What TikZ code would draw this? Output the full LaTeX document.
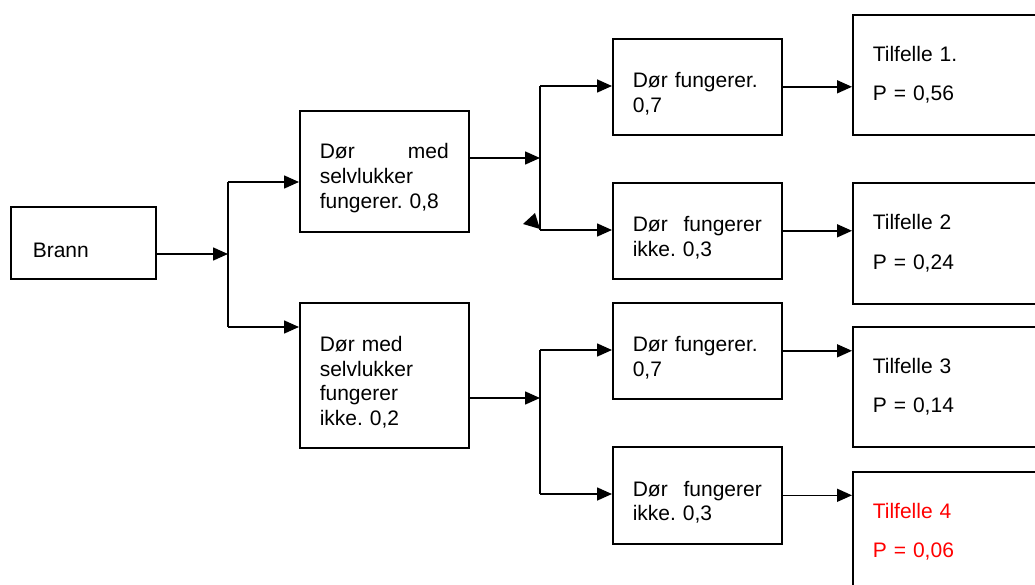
\documentclass[tikz,border=0pt]{standalone}
\usepackage{fontspec}
\setmainfont{Liberation Sans}
\usetikzlibrary{arrows.meta}
\frenchspacing
\begin{document}
\begin{tikzpicture}[x=1pt,y=-1pt,>={Triangle[length=15pt,width=13pt]},line width=1.6pt,
	ramme/.style={draw,anchor=north west,align=left,inner xsep=20pt,inner ysep=0pt,
		font=\fontsize{21}{24.8}\selectfont},
	boks/.style={ramme,text width=129pt,execute at begin node={\rule{0pt}{29pt}}},
	tilfelle/.style={ramme,text width=160pt,minimum height=120pt}]
	\useasboundingbox (0,0) rectangle (1035,585);
	\clip (0,0) rectangle (1035,585);
	% boksene
	\node[boks,text width=101pt,inner xsep=22pt,minimum height=72pt] (brann) at (10,206) {Brann};
	\node[boks,minimum height=121pt] (a) at (299,110) {Dør\hfill med\\selvlukker\\fungerer. 0,8};
	\node[boks,minimum height=145pt] (b) at (299,302) {Dør med\\selvlukker\\fungerer\\ikke. 0,2};
	\node[boks,minimum height=96pt] (c1) at (612,38) {Dør fungerer.\\0,7};
	\node[boks,minimum height=96pt] (c2) at (612,182) {Dør\hfill fungerer\\ikke. 0,3};
	\node[boks,minimum height=96pt] (c3) at (612,302) {Dør fungerer.\\0,7};
	\node[boks,minimum height=97pt] (c4) at (612,446) {Dør\hfill fungerer\\ikke. 0,3};
	\node[tilfelle] (d1) at (852,14) {Tilfelle 1.\\[15pt]P = 0,56};
	\node[tilfelle,minimum height=121pt] (d2) at (852,182) {Tilfelle 2\\[15pt]P = 0,24};
	\node[tilfelle] (d3) at (852,326) {Tilfelle 3\\[15pt]P = 0,14};
	\node[tilfelle,text=red] (d4) at (852,471) {Tilfelle 4\\[15pt]P = 0,06};
	% forgreninger
	\coordinate (j0) at (228,254);
	\coordinate (s1) at (228,182);
	\coordinate (s2) at (228,327);
	\coordinate (j1) at (540,158);
	\coordinate (t1) at (540,86);
	\coordinate (t2) at (540,230);
	\coordinate (j2) at (540,398);
	\coordinate (t3) at (540,350);
	\coordinate (t4) at (540,494);
	\draw[->] (brann.east |- j0) -- (j0);
	\draw (s1) -- (s2);
	\draw[->] (s1) -- (s1 -| a.west);
	\draw[->] (s2) -- (s2 -| b.west);
	\draw[->] (a.east |- j1) -- (j1);
	\draw (t1) -- (t2);
	\draw[->] (t1) -- (t1 -| c1.west);
	\draw[->] (t2) -- (t2 -| c2.west);
	\fill (535,213) -- (523,224) -- (540,229) -- cycle;
	\draw[->] (b.east |- j2) -- (j2);
	\draw (t3) -- (t4);
	\draw[->] (t3) -- (t3 -| c3.west);
	\draw[->] (t4) -- (t4 -| c4.west);
	\draw[->] (c1.east) -- (d1.west |- c1.east);
	\draw[->] (c2.east) -- (d2.west |- c2.east);
	\draw[->] (c3.east) -- (d3.west |- c3.east);
	\draw[->] (c4.east) -- (d4.west |- c4.east);
\end{tikzpicture}
\end{document}
